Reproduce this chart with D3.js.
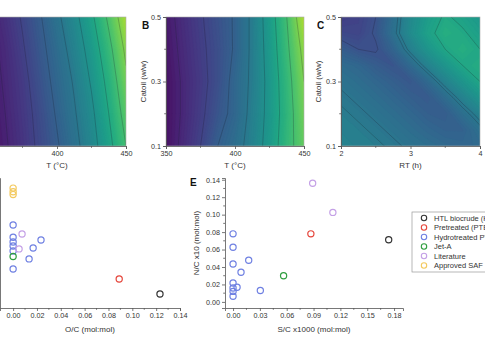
<!DOCTYPE html>
<html><head><meta charset="utf-8">
<script src="https://cdn.jsdelivr.net/npm/d3@7"></script>
<style>
body{margin:0;background:#fff;overflow:hidden}
text{font-family:"Liberation Sans",Arial,sans-serif}
</style>
</head><body><script>
const width = 485, height = 337;

// heatmap grids (rows = catoil low -> high, cols = x values)
const tempCols = [350, 362.5, 375, 387.5, 400, 412.5, 425, 437.5, 450];
const rtCols = [2, 2.25, 2.5, 2.75, 3, 3.25, 3.5, 3.75, 4];
const catRows = [0.1, 0.2, 0.3, 0.4, 0.5];
const catRowsFine = [0.1, 0.15, 0.2, 0.25, 0.3, 0.35, 0.4, 0.45, 0.5];

const gridA = [
  [0.04, 0.09, 0.15, 0.22, 0.29, 0.37, 0.46, 0.57, 0.70],
  [0.05, 0.10, 0.16, 0.23, 0.31, 0.39, 0.48, 0.60, 0.74],
  [0.06, 0.11, 0.17, 0.25, 0.33, 0.41, 0.51, 0.63, 0.78],
  [0.07, 0.12, 0.19, 0.27, 0.35, 0.44, 0.54, 0.67, 0.82],
  [0.08, 0.14, 0.21, 0.29, 0.38, 0.47, 0.58, 0.72, 0.87]
];
const gridB = [
  [0.05, 0.12, 0.20, 0.30, 0.36, 0.44, 0.54, 0.66, 0.76],
  [0.05, 0.11, 0.18, 0.26, 0.33, 0.43, 0.53, 0.65, 0.78],
  [0.05, 0.11, 0.17, 0.24, 0.33, 0.42, 0.53, 0.66, 0.80],
  [0.06, 0.12, 0.18, 0.24, 0.31, 0.42, 0.54, 0.68, 0.83],
  [0.07, 0.13, 0.19, 0.25, 0.31, 0.42, 0.55, 0.70, 0.88]
];
const gridC = [
  [0.44, 0.43, 0.42, 0.40, 0.38, 0.36, 0.34, 0.33, 0.34],
  [0.43, 0.42, 0.40, 0.38, 0.355, 0.33, 0.31, 0.31, 0.37],
  [0.42, 0.40, 0.38, 0.355, 0.33, 0.30, 0.29, 0.36, 0.44],
  [0.40, 0.38, 0.355, 0.33, 0.30, 0.28, 0.35, 0.44, 0.52],
  [0.38, 0.355, 0.33, 0.30, 0.27, 0.34, 0.44, 0.52, 0.59],
  [0.35, 0.33, 0.29, 0.26, 0.34, 0.44, 0.52, 0.59, 0.61],
  [0.29, 0.25, 0.24, 0.32, 0.43, 0.52, 0.59, 0.62, 0.59],
  [0.22, 0.21, 0.26, 0.37, 0.48, 0.57, 0.62, 0.60, 0.56],
  [0.18, 0.20, 0.25, 0.36, 0.47, 0.55, 0.60, 0.57, 0.53]
];

// scatter data
const groups = ["HTL biocrude (HB)", "Pretreated (PTB)", "Hydrotreated PTB", "Jet-A", "Literature", "Approved SAF"];
const groupColors = ["#333333", "#e5453b", "#6f80e2", "#2f9e3f", "#c4a0e6", "#f3c95e"];

// panel D: O/C vs H/C
const dGroup = [5, 5, 5, 2, 2, 2, 2, 2, 2, 2, 2, 2, 4, 4, 3, 1, 0];
const dOC    = [0, 0, 0, 0, 0, 0, 0, 0, 0, 0.0134, 0.0168, 0.0234, 0.0075, 0.005, 0, 0.089, 0.1232];
const dHC    = [2.23, 2.205, 2.185, 1.975, 1.89, 1.857, 1.829, 1.795, 1.67, 1.74, 1.815, 1.871, 1.912, 1.809, 1.757, 1.601, 1.497];

// panel E: S/C x1000 vs N/C x10
const eGroup = [2, 2, 2, 2, 2, 2, 2, 2, 2, 2, 2, 3, 1, 4, 4, 0];
const eSC    = [0, 0, 0, 0, 0, 0, 0, 0.0045, 0.0089, 0.0175, 0.0305, 0.0565, 0.087, 0.089, 0.1116, 0.174];
const eNC    = [0.078, 0.0626, 0.0435, 0.0217, 0.016, 0.012, 0.0065, 0.0168, 0.034, 0.0477, 0.013, 0.030, 0.078, 0.136, 0.1026, 0.0713];

const svg = d3.select("body").append("svg")
  .attr("width", width).attr("height", height)
  .attr("viewBox", [0, 0, width, height]);

const axisColor = "#555";
const labelColor = "#333";

function drawAxis(g, scale, orient, major, minor, fmt, showLabels = true) {
  const ax = (orient === "bottom" ? d3.axisBottom(scale) : d3.axisLeft(scale))
    .tickValues(major).tickSize(3).tickPadding(2)
    .tickFormat(showLabels ? fmt : () => "");
  g.call(ax);
  g.select(".domain").attr("stroke", axisColor).attr("stroke-width", 0.8);
  g.selectAll(".tick line").attr("stroke", axisColor).attr("stroke-width", 0.8);
  g.selectAll(".tick text").attr("font-size", 7.2).attr("fill", labelColor).attr("font-family", "Liberation Sans, Arial, sans-serif");
  const mg = g.append("g");
  minor.forEach(v => {
    const p = scale(v);
    if (orient === "bottom") mg.append("line").attr("x1", p).attr("x2", p).attr("y1", 0).attr("y2", 1.8);
    else mg.append("line").attr("y1", p).attr("y2", p).attr("x1", 0).attr("x2", -1.8);
  });
  mg.selectAll("line").attr("stroke", axisColor).attr("stroke-width", 0.8);
}

function heatmap(id, grid, cols, rows, x, y, thresholdsLine) {
  const nx = cols.length, ny = rows.length;
  const values = grid.flat();
  const dx = cols[1] - cols[0], dy = rows[1] - rows[0];
  const proj = d3.geoTransform({
    point: function(gx, gy) {
      this.stream.point(x(cols[0] + (gx - 0.5) * dx), y(rows[0] + (gy - 0.5) * dy));
    }
  });
  const path = d3.geoPath(proj);
  const [x0, x1] = x.range(), [y1, y0] = y.range();
  svg.append("clipPath").attr("id", id).append("rect")
    .attr("x", x0).attr("y", y0).attr("width", x1 - x0).attr("height", y1 - y0);
  const g = svg.append("g").attr("clip-path", `url(#${id})`);
  g.append("rect").attr("x", x0).attr("y", y0).attr("width", x1 - x0).attr("height", y1 - y0)
    .attr("fill", d3.interpolateViridis(d3.min(values)));
  const fillLevels = d3.range(0, 0.95, 0.012);
  const contours = d3.contours().size([nx, ny]).thresholds(fillLevels)(values);
  g.selectAll("path.band").data(contours).join("path")
    .attr("class", "band")
    .attr("d", path)
    .attr("fill", d => d3.interpolateViridis(d.value + 0.006))
    .attr("stroke", d => d3.interpolateViridis(d.value + 0.006))
    .attr("stroke-width", 0.3);
  const lines = d3.contours().size([nx, ny]).thresholds(thresholdsLine)(values);
  g.selectAll("path.line").data(lines).join("path")
    .attr("class", "line")
    .attr("d", path)
    .attr("fill", "none")
    .attr("stroke", "#1a1a2a")
    .attr("stroke-opacity", 0.4)
    .attr("stroke-width", 0.6);
  // light frame
  svg.append("rect").attr("x", x0).attr("y", y0).attr("width", x1 - x0).attr("height", y1 - y0)
    .attr("fill", "none").attr("stroke", "#aaa").attr("stroke-width", 0.6);
}

const yTop = 17, yBot = 146;
const fmt1 = d3.format(".1f");

function heatPanel(id, letter, grid, cols, rows, xr, xlabel, majorX, minorX, lines, ylabelX) {
  const x = d3.scaleLinear().domain([cols[0], cols[cols.length - 1]]).range(xr);
  const y = d3.scaleLinear().domain([0.1, 0.5]).range([yBot, yTop]);
  heatmap(id, grid, cols, rows, x, y, lines);
  drawAxis(svg.append("g").attr("transform", `translate(0,${yBot})`), x, "bottom", majorX, minorX, d3.format("d"));
  drawAxis(svg.append("g").attr("transform", `translate(${xr[0]},0)`), y, "left", [0.1, 0.3, 0.5], [0.2, 0.4], fmt1, xr[0] > 0);
  svg.append("text").attr("x", (xr[0] + xr[1]) / 2).attr("y", 168)
    .attr("text-anchor", "middle").attr("font-size", 8).attr("fill", labelColor).text(xlabel);
  if (xr[0] > 0) {
    svg.append("text").attr("transform", `translate(${ylabelX},${(yTop + yBot) / 2}) rotate(-90)`)
      .attr("text-anchor", "middle").attr("font-size", 8).attr("fill", labelColor).text("Catoil (w/w)");
    svg.append("text").attr("x", xr[0] - 24).attr("y", 29).attr("font-size", 10)
      .attr("font-weight", "bold").attr("fill", "#111").text(letter);
  }
}

heatPanel("clipA", "A", gridA, tempCols, catRows, [-12, 126], "T (°C)", [400, 450], [375, 425], [0.1, 0.2, 0.3, 0.4, 0.5, 0.6, 0.7, 0.8], 0);
heatPanel("clipB", "B", gridB, tempCols, catRows, [166, 304], "T (°C)", [350, 400, 450], [375, 425], [0.1, 0.2, 0.3, 0.4, 0.5, 0.6, 0.7, 0.8], 146);
heatPanel("clipC", "C", gridC, rtCols, catRowsFine, [341, 480], "RT (h)", [2, 3, 4], [2.5, 3.5], [0.25, 0.39, 0.41, 0.59], 321);

// ---- scatter panels
const sBot = 308, sTop = 178;

function points(g, xs, ys, grp, x, y) {
  g.selectAll("circle").data(xs.map((v, i) => i)).join("circle")
    .attr("cx", i => x(xs[i])).attr("cy", i => y(ys[i]))
    .attr("r", 3.1).attr("fill", "none")
    .attr("stroke", i => groupColors[grp[i]]).attr("stroke-width", 1.2);
}

// D
const xD = d3.scaleLinear().domain([-0.011, 0.14]).range([0, 180]);
const yD = d3.scaleLinear().domain([1.4, 2.3]).range([sBot, sTop]);
drawAxis(svg.append("g").attr("transform", `translate(0,${sBot})`), xD, "bottom",
  d3.range(0, 0.1401, 0.02), d3.range(0.01, 0.14, 0.02), d3.format(".2f"));
drawAxis(svg.append("g").attr("transform", `translate(0,0)`), yD, "left",
  d3.range(1.4, 2.301, 0.1), d3.range(1.45, 2.3, 0.1), d3.format(".1f"), false);
points(svg.append("g"), dOC, dHC, dGroup, xD, yD);
svg.append("text").attr("x", 90).attr("y", 332).attr("text-anchor", "middle")
  .attr("font-size", 8).attr("fill", labelColor).text("O/C (mol:mol)");

// E
const xE = d3.scaleLinear().domain([-0.009, 0.19]).range([225, 403]);
const yE = d3.scaleLinear().domain([-0.007, 0.142]).range([sBot, sTop]);
drawAxis(svg.append("g").attr("transform", `translate(0,${sBot})`), xE, "bottom",
  d3.range(0, 0.1801, 0.03), d3.range(0.015, 0.19, 0.03), d3.format(".2f"));
drawAxis(svg.append("g").attr("transform", `translate(225,0)`), yE, "left",
  d3.range(0, 0.1401, 0.02), d3.range(0.01, 0.14, 0.02), d3.format(".2f"));
points(svg.append("g"), eSC, eNC, eGroup, xE, yE);
svg.append("text").attr("x", 314).attr("y", 332).attr("text-anchor", "middle")
  .attr("font-size", 8).attr("fill", labelColor).text("S/C x1000 (mol:mol)");
svg.append("text").attr("transform", `translate(199,243) rotate(-90)`)
  .attr("text-anchor", "middle").attr("font-size", 8).attr("fill", labelColor).text("N/C x10 (mol:mol)");
svg.append("text").attr("x", 190).attr("y", 186).attr("font-size", 10)
  .attr("font-weight", "bold").attr("fill", "#111").text("E");

// legend
const lg = svg.append("g").attr("transform", "translate(412,212)");
lg.append("rect").attr("x", 0).attr("y", 0).attr("width", 110).attr("height", 60)
  .attr("fill", "#fff").attr("stroke", "#999").attr("stroke-width", 0.7);
groups.forEach((name, i) => {
  const yy = 6 + i * 9.5;
  lg.append("circle").attr("cx", 12).attr("cy", yy).attr("r", 2.7)
    .attr("fill", "none").attr("stroke", groupColors[i]).attr("stroke-width", 1.1);
  lg.append("text").attr("x", 22).attr("y", yy + 2.6).attr("font-size", 7.5)
    .attr("fill", labelColor).text(name);
});
</script></body></html>
